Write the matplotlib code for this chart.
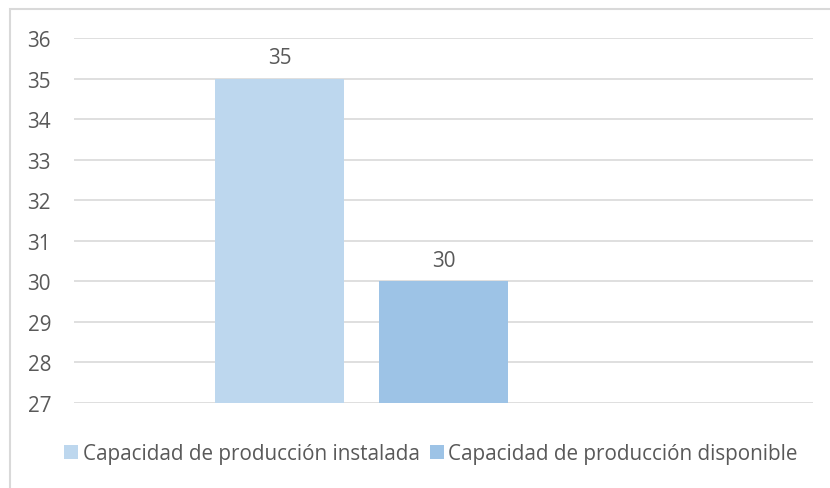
import matplotlib.pyplot as plt
from matplotlib.patches import Rectangle, Patch

plt.rcParams['font.family'] = ['Open Sans', 'DejaVu Sans']

series = ['Capacidad de producción instalada', 'Capacidad de producción disponible']
values = [35, 30]
colors = ['#BDD7EE', '#9DC3E6']
yticks = [27, 28, 29, 30, 31, 32, 33, 34, 35, 36]

text_color = '#595959'
grid_color = '#D9D9D9'
fs = 14.9

fig = plt.figure(figsize=(8.3, 4.89), dpi=100)
ax = fig.add_axes([74 / 830, 1 - 404 / 489, (813 - 74) / 830, (404 - 39) / 489])

# chart frame (only top/left edges fall inside the canvas)
fig.patches.append(Rectangle((10 / 830, -0.1), 1.2, 1 - 10 / 489 + 0.1,
                             transform=fig.transFigure, fill=False,
                             edgecolor=grid_color, linewidth=1.5, zorder=0))

width = 0.175
step = 0.222
for i, (name, v, c) in enumerate(zip(series, values, colors)):
    x = (i - 1) * step
    ax.bar(x, v - yticks[0], width=width, bottom=yticks[0], color=c, zorder=2)
    ax.text(x, v + 0.26, str(v), ha='center', va='bottom', fontsize=fs, color=text_color)

ax.set_xlim(-0.5, 0.5)
ax.set_ylim(yticks[0], yticks[-1])
ax.set_yticks(yticks)
ax.set_xticks([])
ax.grid(axis='y', color=grid_color, linewidth=1.2, zorder=0)
for s in ax.spines.values():
    s.set_visible(False)
ax.tick_params(axis='y', length=0, pad=16.5, labelsize=fs, labelcolor=text_color)

handles = [Patch(facecolor=c, edgecolor='none', label=n) for n, c in zip(series, colors)]
fig.legend(handles=handles, loc='center', bbox_to_anchor=(431 / 830, 1 - 455 / 489), ncol=2,
           frameon=False, fontsize=fs, labelcolor=text_color, handlelength=0.67,
           handleheight=0.67, handletextpad=0.23, columnspacing=0.48,
           borderpad=0, borderaxespad=0)

fig.savefig('out.png', dpi=100)
